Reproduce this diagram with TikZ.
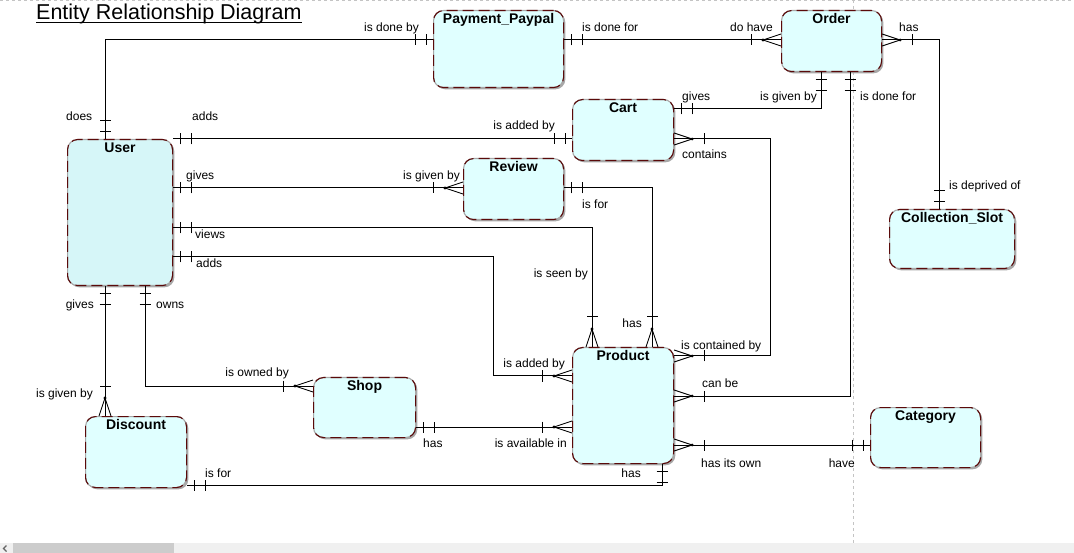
\documentclass[tikz,border=0pt]{standalone}
\usepackage{fontspec}
\setmainfont{Liberation Sans}
\usetikzlibrary{shadows}
\definecolor{boxfill}{HTML}{E0FFFF}
\definecolor{userfill}{HTML}{D6F6F8}
\definecolor{boxred}{HTML}{5A0A0A}
\definecolor{boxgray}{HTML}{A8A8A8}
\definecolor{pagegray}{HTML}{C4C4C4}
\tikzset{
  etitle/.style={anchor=north, yshift=-3.5pt, inner sep=0pt, font=\fontsize{14}{16}\selectfont\bfseries},
  entity/.style={rectangle, rounded corners=10pt, anchor=north west, inner sep=0pt,
    fill=boxfill, draw=boxgray, line width=1.1pt,
    postaction={draw=boxred, line width=1.1pt, dash pattern=on 11pt off 5pt},
    drop shadow={shadow xshift=1.8pt, shadow yshift=-1.8pt, fill=boxgray, opacity=1},
    label={[etitle]north:#1}},
  conn/.style={draw=black, line width=1pt},
  lbl/.style={font=\fontsize{12}{14}\selectfont, inner sep=0pt, text=black},
  oneone/.pic={\draw[line width=1pt] (7,-5.5)--(7,5.5) (18,-5.5)--(18,5.5);},
  onemany/.pic={\draw[line width=0.9pt] (0,6)--(18,0)--(0,-6); \fill (18,0) circle (1.6pt);
    \draw[line width=1pt] (30,-5.5)--(30,5.5);}
}
\begin{document}
\begin{tikzpicture}[x=1pt,y=1pt]
\useasboundingbox (0,0) rectangle (1074,-553);
\fill[white] (0,0) rectangle (1074,-553);
% page guides
\draw[pagegray, line width=1pt, dash pattern=on 3pt off 3pt] (0,-1) -- (1074,-1);
\draw[pagegray, line width=1pt, dash pattern=on 3pt off 3pt] (853,0) -- (853,-543);
% scrollbar
\fill[gray!12] (0,-543) rectangle (1074,-553);
\fill[gray!40] (13,-543) rectangle (174,-553);
\draw[gray!80!black, line width=1.2pt] (6.5,-545.5) -- (3.5,-548.5) -- (6.5,-551.5);

% title
\node[anchor=base west, inner sep=0pt, font=\fontsize{21.5}{24}\selectfont] (title) at (36,-20) {Entity Relationship Diagram};
\draw[line width=1.3pt] ([yshift=-2.8pt]title.base west) -- ([yshift=-2.8pt]title.base east);

% entities
\node[entity=Payment\_Paypal, minimum width=130pt, minimum height=77pt] (paypal) at (433,-10) {};
\node[entity=Order, minimum width=100pt, minimum height=61pt] (order) at (781,-10) {};
\node[entity=Cart, minimum width=101pt, minimum height=61pt] (cart) at (572,-99) {};
\node[entity=Review, minimum width=100pt, minimum height=61pt] (review) at (463,-158) {};
\node[entity=Collection\_Slot, minimum width=125pt, minimum height=59pt] (collslot) at (889,-209) {};
\node[entity=User, fill=userfill, minimum width=105pt, minimum height=146pt] (user) at (67,-139) {};
\node[entity=Product, minimum width=101pt, minimum height=116pt] (product) at (572,-347) {};
\node[entity=Shop, minimum width=102pt, minimum height=60pt] (shop) at (313,-377) {};
\node[entity=Discount, minimum width=101pt, minimum height=71pt] (discount) at (85,-416) {};
\node[entity=Category, minimum width=110pt, minimum height=60pt] (category) at (870,-407) {};

% bend coordinates
\coordinate (b1) at (105,-40);
\coordinate (b3) at (939,-40);
\coordinate (b4) at (821,-109);
\coordinate (b5) at (850,-396);
\coordinate (b6a) at (770,-139);
\coordinate (b6b) at (770,-356);
\coordinate (b7) at (0,-139);
\coordinate (b8) at (0,-188);
\coordinate (b9) at (652,-188);
\coordinate (b10) at (592,-228);
\coordinate (b11a) at (493,-257);
\coordinate (b11b) at (493,-376);
\coordinate (b12) at (105,0);
\coordinate (b13) at (145,-386);
\coordinate (b14) at (0,-427);
\coordinate (b15) at (662,-485);
\coordinate (b16) at (0,-445);

% connectors
\draw[conn] (user.north -| b1) |- (paypal.west |- b1);
\pic[rotate=90] at (user.north -| b1) {oneone};
\pic[rotate=180] at (paypal.west |- b1) {oneone};

\draw[conn] (paypal.east |- b1) -- (order.west |- b1);
\pic at (paypal.east |- b1) {oneone};
\pic[rotate=180] at (order.west |- b1) {onemany};

\draw[conn] (order.east |- b3) -| (collslot.north -| b3);
\pic at (order.east |- b3) {onemany};
\pic[rotate=90] at (collslot.north -| b3) {oneone};

\draw[conn] (order.south -| b4) |- (cart.east |- b4);
\pic[rotate=-90] at (order.south -| b4) {oneone};
\pic at (cart.east |- b4) {oneone};

\draw[conn] (order.south -| b5) |- (product.east |- b5);
\pic[rotate=-90] at (order.south -| b5) {oneone};
\pic at (product.east |- b5) {onemany};

\draw[conn] (cart.east |- b6a) -- (b6a) -- (b6b) -- (product.east |- b6b);
\pic at (cart.east |- b6a) {onemany};
\pic at (product.east |- b6b) {onemany};

\draw[conn] (user.east |- b7) -- (cart.west |- b7);
\pic at (user.east |- b7) {oneone};
\pic[rotate=180] at (cart.west |- b7) {oneone};

\draw[conn] (user.east |- b8) -- (review.west |- b8);
\pic at (user.east |- b8) {oneone};
\pic[rotate=180] at (review.west |- b8) {onemany};

\draw[conn] (review.east |- b9) -| (product.north -| b9);
\pic at (review.east |- b9) {oneone};
\pic[rotate=90] at (product.north -| b9) {onemany};

\draw[conn] (user.east |- b10) -| (product.north -| b10);
\pic at (user.east |- b10) {oneone};
\pic[rotate=90] at (product.north -| b10) {onemany};

\draw[conn] (user.east |- b11a) -- (b11a) -- (b11b) -- (product.west |- b11b);
\pic at (user.east |- b11a) {oneone};
\pic[rotate=180] at (product.west |- b11b) {onemany};

\draw[conn] (user.south -| b12) -- (discount.north -| b12);
\pic[rotate=-90] at (user.south -| b12) {oneone};
\pic[rotate=90] at (discount.north -| b12) {onemany};

\draw[conn] (user.south -| b13) |- (shop.west |- b13);
\pic[rotate=-90] at (user.south -| b13) {oneone};
\pic[rotate=180] at (shop.west |- b13) {onemany};

\draw[conn] (shop.east |- b14) -- (product.west |- b14);
\pic at (shop.east |- b14) {oneone};
\pic[rotate=180] at (product.west |- b14) {onemany};

\draw[conn] (discount.east |- b15) -| (product.south -| b15);
\pic at (discount.east |- b15) {oneone};
\pic[rotate=-90] at (product.south -| b15) {oneone};

\draw[conn] (product.east |- b16) -- (category.west |- b16);
\pic at (product.east |- b16) {onemany};
\pic[rotate=180] at (category.west |- b16) {oneone};

% relationship labels
\node[lbl, anchor=base west] (l1) at (66,-121) {does};
\node[lbl, anchor=base east] (l2) at (419,-32) {is done by};
\node[lbl, anchor=base west] (l3) at (582,-32) {is done for};
\node[lbl, anchor=base east] (l4) at (773,-32) {do have};
\node[lbl, anchor=base west] (l5) at (899,-32) {has};
\node[lbl, anchor=base west] (l6) at (949,-190) {is deprived of};
\node[lbl, anchor=base east] (l7) at (817,-101) {is given by};
\node[lbl, anchor=base west] (l8) at (682,-101) {gives};
\node[lbl, anchor=base west] (l9) at (860,-101) {is done for};
\node[lbl, anchor=base west] (l10) at (702,-388) {can be};
\node[lbl, anchor=base west] (l11) at (682,-159) {contains};
\node[lbl, anchor=base west] (l12) at (681,-349) {is contained by};
\node[lbl, anchor=base west] (l13) at (192,-121) {adds};
\node[lbl, anchor=base east] (l14) at (555,-130) {is added by};
\node[lbl, anchor=base west] (l15) at (186,-180) {gives};
\node[lbl, anchor=base east] (l16) at (460,-180) {is given by};
\node[lbl, anchor=base west] (l17) at (582,-209) {is for};
\node[lbl, anchor=base east] (l18) at (642,-328) {has};
\node[lbl, anchor=base west] (l19) at (195,-239) {views};
\node[lbl, anchor=base east] (l20) at (588,-278) {is seen by};
\node[lbl, anchor=base west] (l21) at (196,-268) {adds};
\node[lbl, anchor=base east] (l22) at (565,-367) {is added by};
\node[lbl, anchor=base east] (l23) at (94,-309) {gives};
\node[lbl, anchor=base east] (l24) at (93,-397) {is given by};
\node[lbl, anchor=base west] (l25) at (156,-309) {owns};
\node[lbl, anchor=base east] (l26) at (289,-377) {is owned by};
\node[lbl, anchor=base west] (l27) at (423,-447) {has};
\node[lbl, anchor=base east] (l28) at (567,-447) {is available in};
\node[lbl, anchor=base west] (l29) at (205,-477) {is for};
\node[lbl, anchor=base east] (l30) at (641,-477) {has};
\node[lbl, anchor=base west] (l31) at (701,-467) {has its own};
\node[lbl, anchor=base east] (l32) at (855,-467) {have};
\end{tikzpicture}
\end{document}
